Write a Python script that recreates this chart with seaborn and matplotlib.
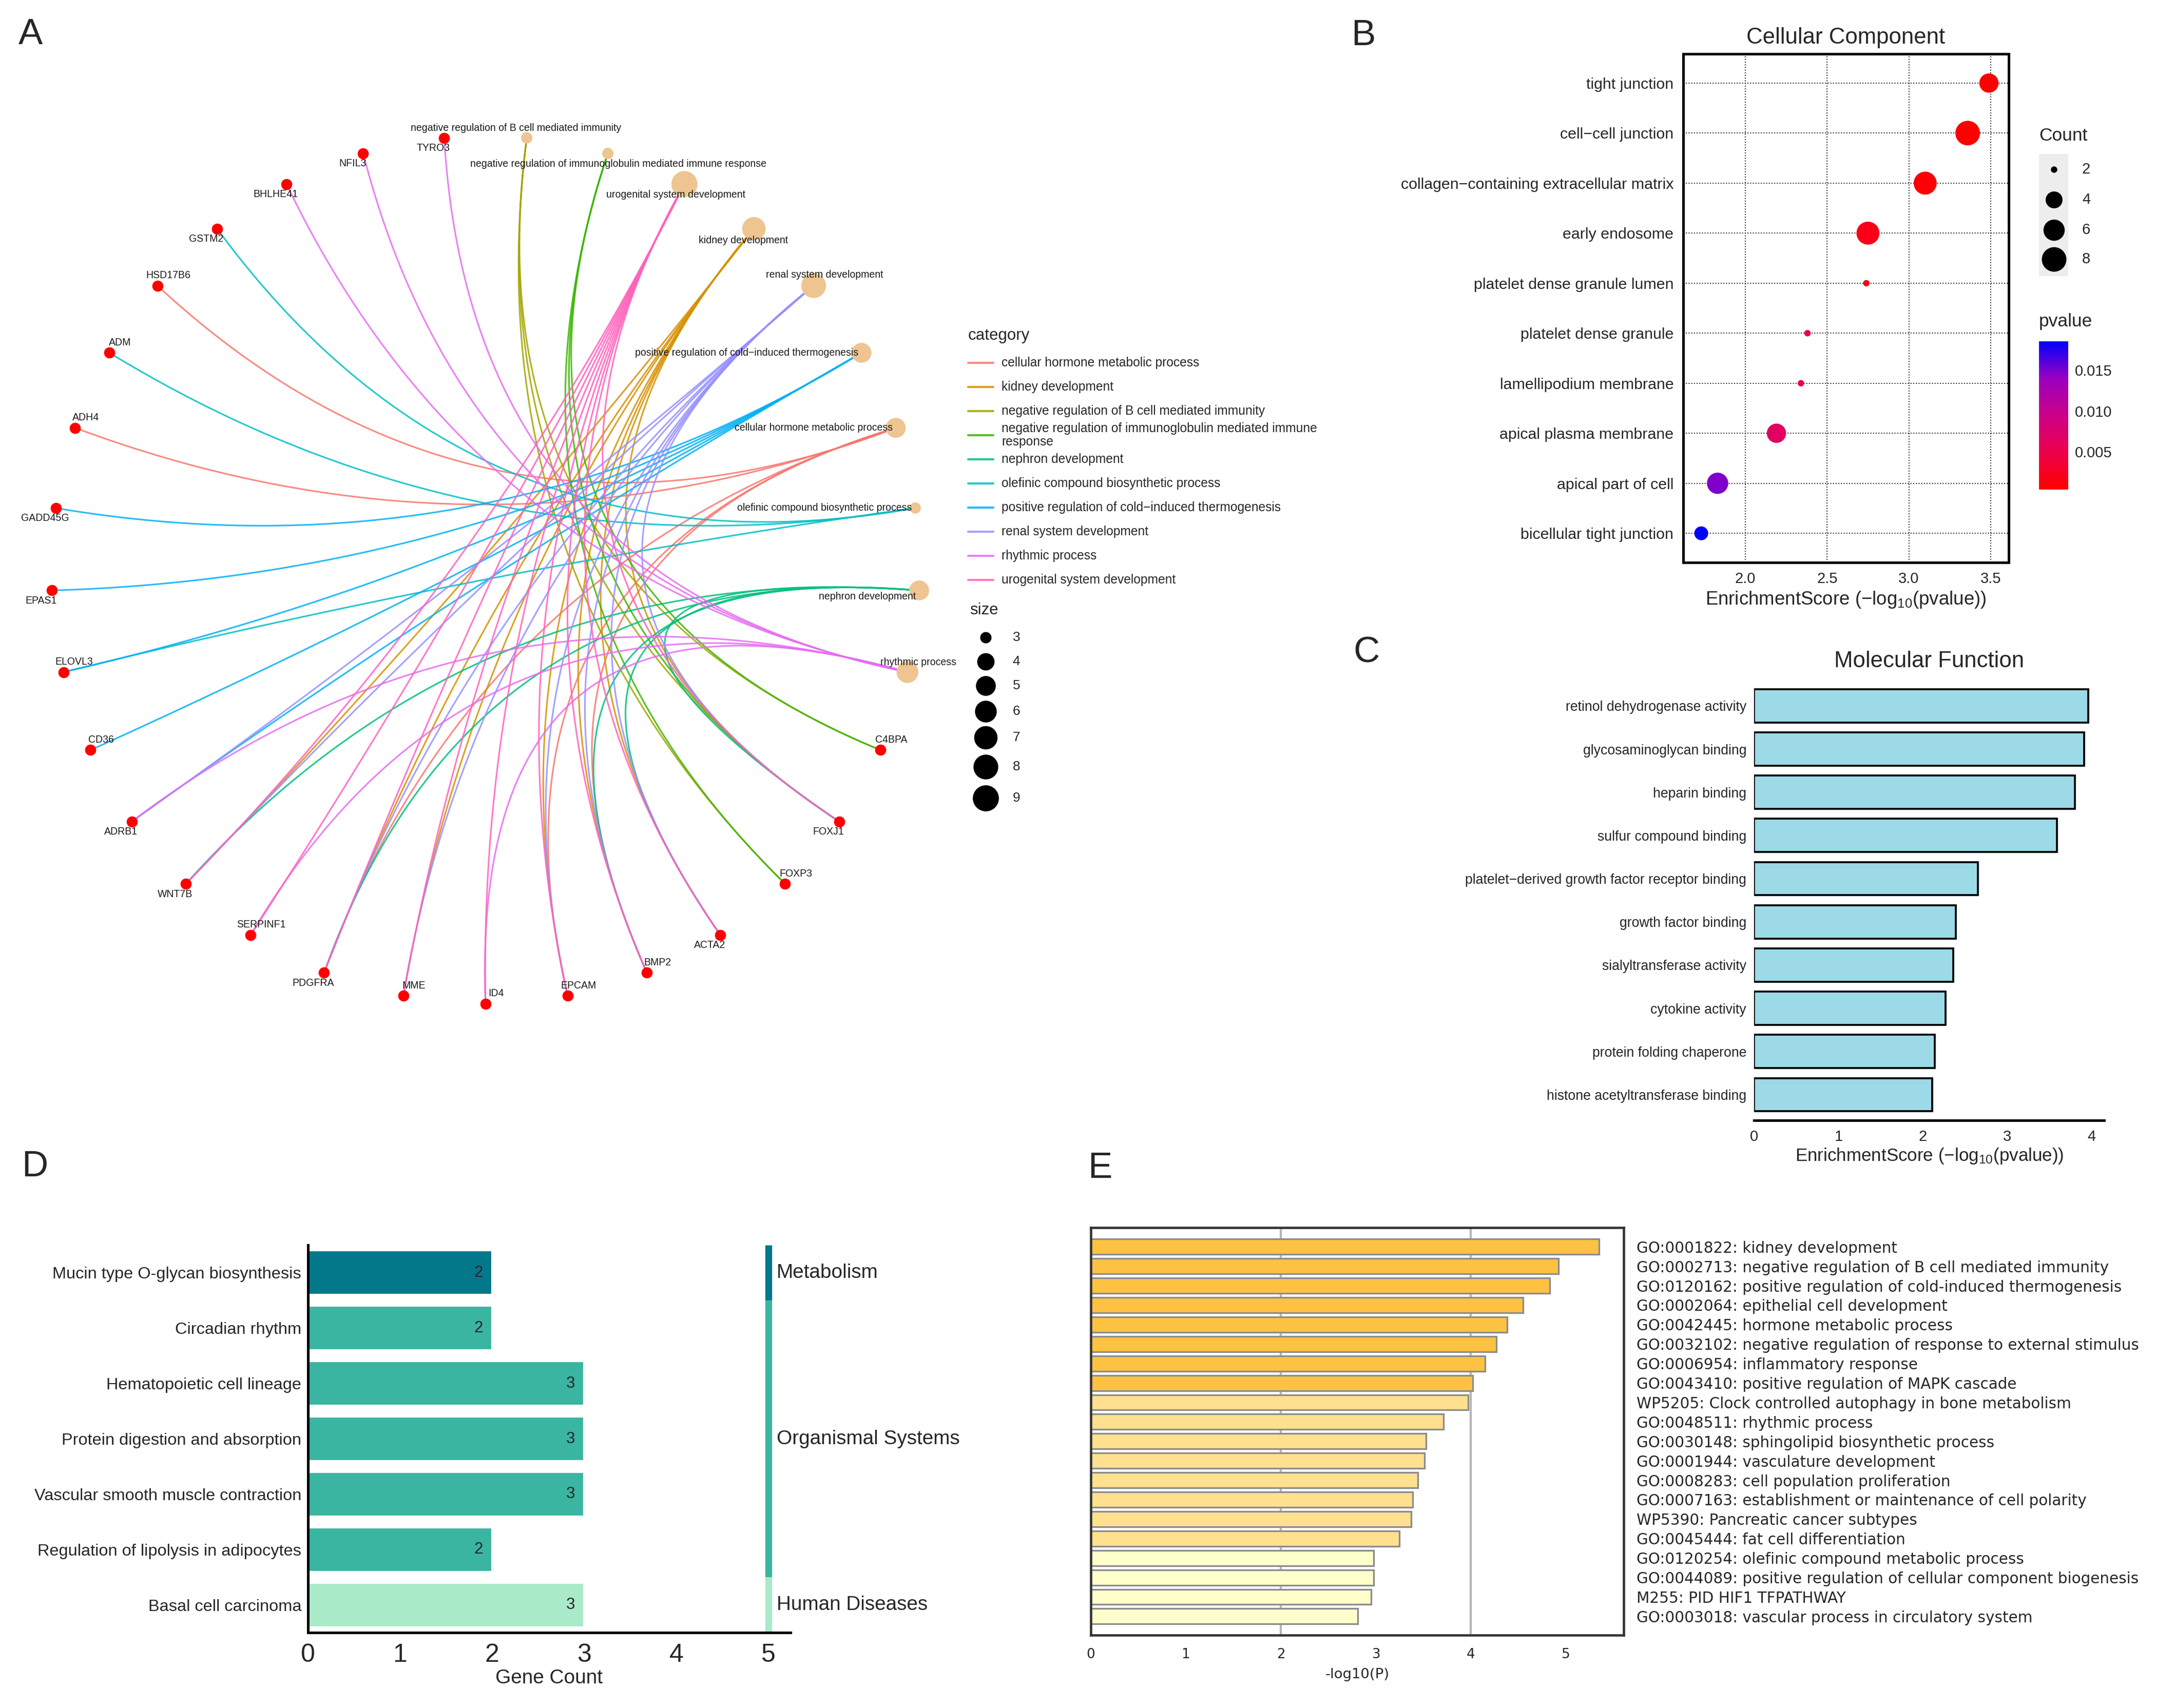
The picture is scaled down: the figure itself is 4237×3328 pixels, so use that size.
import numpy as np
import pandas as pd
import matplotlib
matplotlib.use("Agg")
import matplotlib.pyplot as plt
import seaborn as sns
from matplotlib.colors import LinearSegmentedColormap, Normalize
from matplotlib.cm import ScalarMappable
from matplotlib.patches import Rectangle

sns.set_style("white")
plt.rcParams['font.family'] = ['Liberation Sans', 'DejaVu Sans']
plt.rcParams['mathtext.default'] = 'regular'

# ---------------- data ----------------
# A: gene-concept network (terms then genes, clockwise from the top)
terms = ["negative regulation of B cell mediated immunity",
         "negative regulation of immunoglobulin mediated immune response",
         "urogenital system development", "kidney development",
         "renal system development",
         "positive regulation of cold\u2212induced thermogenesis",
         "cellular hormone metabolic process",
         "olefinic compound biosynthetic process",
         "nephron development", "rhythmic process"]
term_size = [3, 3, 9, 7, 8, 5, 5, 3, 5, 6]
genes = ["C4BPA", "FOXJ1", "FOXP3", "ACTA2", "BMP2", "EPCAM", "ID4", "MME",
         "PDGFRA", "SERPINF1", "WNT7B", "ADRB1", "CD36", "ELOVL3", "EPAS1",
         "GADD45G", "ADH4", "ADM", "HSD17B6", "GSTM2", "BHLHE41", "NFIL3", "TYRO3"]
term_genes = {
    terms[0]: ["FOXJ1", "FOXP3", "C4BPA"],
    terms[1]: ["FOXJ1", "FOXP3", "C4BPA"],
    terms[2]: ["WNT7B", "PDGFRA", "MME", "EPCAM", "BMP2", "ACTA2", "FOXJ1", "ID4", "SERPINF1"],
    terms[3]: ["WNT7B", "PDGFRA", "MME", "EPCAM", "BMP2", "ACTA2", "FOXJ1"],
    terms[4]: ["WNT7B", "PDGFRA", "MME", "EPCAM", "BMP2", "ACTA2", "FOXJ1", "ADRB1"],
    terms[5]: ["GADD45G", "EPAS1", "ELOVL3", "CD36", "ADRB1"],
    terms[6]: ["HSD17B6", "ADH4", "BMP2", "PDGFRA", "EPCAM"],
    terms[7]: ["GSTM2", "ADM", "ELOVL3"],
    terms[8]: ["WNT7B", "PDGFRA", "BMP2", "ACTA2", "FOXJ1"],
    terms[9]: ["TYRO3", "NFIL3", "BHLHE41", "ID4", "SERPINF1", "ADRB1"],
}

# B: cellular component dot plot
cc_terms = ["tight junction", "cell\u2212cell junction",
            "collagen\u2212containing extracellular matrix", "early endosome",
            "platelet dense granule lumen", "platelet dense granule",
            "lamellipodium membrane", "apical plasma membrane",
            "apical part of cell", "bicellular tight junction"]
cc_score = [3.49, 3.36, 3.10, 2.75, 2.74, 2.38, 2.34, 2.19, 1.83, 1.73]
cc_count = [5, 8, 7, 7, 2, 2, 2, 5, 6, 3]
cc_pvalue = [0.00032, 0.00044, 0.00079, 0.0018, 0.0018, 0.0042, 0.0046,
             0.0065, 0.0148, 0.0186]

# C: molecular function
mf_terms = ["retinol dehydrogenase activity", "glycosaminoglycan binding",
            "heparin binding", "sulfur compound binding",
            "platelet\u2212derived growth factor receptor binding",
            "growth factor binding", "sialyltransferase activity",
            "cytokine activity", "protein folding chaperone",
            "histone acetyltransferase binding"]
mf_score = [3.96, 3.91, 3.80, 3.59, 2.65, 2.39, 2.36, 2.27, 2.14, 2.11]

# D: KEGG
kegg_pathways = ["Mucin type O-glycan biosynthesis", "Circadian rhythm",
                 "Hematopoietic cell lineage", "Protein digestion and absorption",
                 "Vascular smooth muscle contraction",
                 "Regulation of lipolysis in adipocytes", "Basal cell carcinoma"]
kegg_count = [2, 2, 3, 3, 3, 2, 3]
kegg_class = ["Metabolism", "Organismal Systems", "Organismal Systems",
              "Organismal Systems", "Organismal Systems", "Organismal Systems",
              "Human Diseases"]

# E: Metascape
meta_terms = ["GO:0001822: kidney development",
              "GO:0002713: negative regulation of B cell mediated immunity",
              "GO:0120162: positive regulation of cold-induced thermogenesis",
              "GO:0002064: epithelial cell development",
              "GO:0042445: hormone metabolic process",
              "GO:0032102: negative regulation of response to external stimulus",
              "GO:0006954: inflammatory response",
              "GO:0043410: positive regulation of MAPK cascade",
              "WP5205: Clock controlled autophagy in bone metabolism",
              "GO:0048511: rhythmic process",
              "GO:0030148: sphingolipid biosynthetic process",
              "GO:0001944: vasculature development",
              "GO:0008283: cell population proliferation",
              "GO:0007163: establishment or maintenance of cell polarity",
              "WP5390: Pancreatic cancer subtypes",
              "GO:0045444: fat cell differentiation",
              "GO:0120254: olefinic compound metabolic process",
              "GO:0044089: positive regulation of cellular component biogenesis",
              "M255: PID HIF1 TFPATHWAY",
              "GO:0003018: vascular process in circulatory system"]
meta_logp = [5.35, 4.92, 4.83, 4.55, 4.38, 4.27, 4.15, 4.02, 3.97, 3.71,
             3.53, 3.51, 3.44, 3.39, 3.37, 3.25, 2.98, 2.98, 2.95, 2.81]

# ---------------- styles ----------------
cat_palette = ['#F8766D', '#D89000', '#A3A500', '#39B600', '#00BF7D',
               '#00BFC4', '#00B0F6', '#9590FF', '#E76BF3', '#FF62BC']
legend_terms = sorted(terms)
term_colors = dict(zip(legend_terms, cat_palette))
class_colors = {"Metabolism": "#04788B", "Organismal Systems": "#3AB5A1",
                "Human Diseases": "#A9EAC9"}
pv_cmap = LinearSegmentedColormap.from_list(
    "rb", ["#FF0000", "#EC004C", "#CC0088", "#9A00C0", "#0000FF"])


def node_d(n):
    return 5.3 + 6.9 * np.sqrt((n - 3) / 6.0)


def cnt_d(c):
    return 3.0 + 8.5 * np.sqrt((c - 2) / 6.0)


W, H = 1568.0, 1232.0


def frac(x0, y0, x1, y1):
    return [x0 / W, 1 - y1 / H, (x1 - x0) / W, (y1 - y0) / H]


fig = plt.figure(figsize=(4237 / 300, 3328 / 300), dpi=300)

# ---------------- A ----------------
ax_a = fig.add_axes(frac(0, 70, 700, 790))
names = terms + genes
n_nodes = len(names)
ang = np.deg2rad(90 - 360.0 / n_nodes * (np.arange(n_nodes) + 0.5))
pos = {nm: np.array([np.cos(a), np.sin(a)]) for nm, a in zip(names, ang)}

tt = np.linspace(0, 1, 80)[:, None]
for term in legend_terms:
    for g in term_genes[term]:
        p0, p1 = pos[g], pos[term]
        ctrl = -0.08 * (p0 + p1) / 2          # bend through the centre
        curve = (1 - tt) ** 2 * p0 + 2 * tt * (1 - tt) * ctrl + tt ** 2 * p1
        ax_a.plot(curve[:, 0], curve[:, 1], color=term_colors[term], lw=0.75,
                  alpha=0.85, zorder=1)

node_df = pd.DataFrame({"name": names,
                        "x": [pos[n][0] for n in names],
                        "y": [pos[n][1] for n in names],
                        "kind": ["term"] * len(terms) + ["gene"] * len(genes),
                        "size": term_size + [3] * len(genes)})
sns.scatterplot(data=node_df[node_df.kind == "gene"], x="x", y="y",
                color="#FF0000", s=27, linewidth=0, ax=ax_a, zorder=3)
sns.scatterplot(data=node_df[node_df.kind == "term"], x="x", y="y",
                size="size", sizes={n: node_d(n) ** 2 for n in range(3, 10)},
                color="#EEC591", linewidth=0, legend=False, ax=ax_a, zorder=3)

term_label_pos = {terms[0]: (-5, 4.6, "center"), terms[1]: (5, -5, "center"),
                  terms[2]: (-4, -5, "center"), terms[3]: (-5, -5.5, "center"),
                  terms[4]: (5, 5, "center"), terms[5]: (-1.5, 0, "right"),
                  terms[6]: (-1.5, 0, "right"), terms[7]: (-1.5, 0, "right"),
                  terms[8]: (-1.5, -3, "right"), terms[9]: (5, 4.6, "center")}
up_right = {"C4BPA", "FOXP3", "BMP2", "EPCAM", "ID4", "MME", "SERPINF1", "CD36",
            "ELOVL3", "ADH4", "ADM", "HSD17B6"}
for nm in names:
    if nm in term_label_pos:
        dx, dy, ha = term_label_pos[nm]
    elif nm in up_right:
        dx, dy, ha = 5, 4.8, "center"
    else:
        dx, dy, ha = -5, -4.8, "center"
    ax_a.annotate(nm, pos[nm], xytext=(dx, dy), textcoords="offset points",
                  ha=ha, va="center", fontsize=4.7, color="#1a1a1a", zorder=4)
ax_a.set_xlim(-350 / 313, 350 / 313)
ax_a.set_ylim((411 - 790) / 313, (411 - 70) / 313)
ax_a.axis("off")

# ---------------- B ----------------
ax_b = fig.add_axes(frac(1213.5, 39, 1448, 405.6))
cc_df = pd.DataFrame({"term": cc_terms, "score": cc_score, "count": cc_count,
                      "pvalue": cc_pvalue})
cc_df["ypos"] = np.arange(len(cc_df))[::-1]
pv_norm = Normalize(min(cc_pvalue), max(cc_pvalue))
ax_b.grid(True, color="#333333", linestyle=(0, (1, 1.5)), linewidth=0.5)
ax_b.set_axisbelow(True)
sns.scatterplot(data=cc_df, x="score", y="ypos", hue="pvalue", palette=pv_cmap,
                hue_norm=pv_norm, size="count",
                sizes={c: cnt_d(c) ** 2 for c in range(2, 9)},
                legend=False, linewidth=0, ax=ax_b, zorder=3)
ax_b.set_yticks(cc_df.ypos, cc_df.term)
ax_b.set_xticks([2.0, 2.5, 3.0, 3.5], ["2.0", "2.5", "3.0", "3.5"])
ax_b.set_xlim(1.62, 3.61)
ax_b.set_ylim(-0.58, 9.58)
for sp in ax_b.spines.values():
    sp.set_color("black")
    sp.set_linewidth(1.2)
ax_b.tick_params(axis="both", length=2.5, width=0.8, pad=2, color="black")
ax_b.tick_params(axis="y", labelsize=7.3)
ax_b.tick_params(axis="x", labelsize=7)
ax_b.set_xlabel("EnrichmentScore (\u2212log$_{10}$(pvalue))", fontsize=8.8, labelpad=1.5)
ax_b.set_ylabel("")
ax_b.set_title("Cellular Component", fontsize=10.5, pad=5)

cax = fig.add_axes(frac(1470, 246, 1491, 353))
cb = fig.colorbar(ScalarMappable(norm=pv_norm, cmap=pv_cmap), cax=cax)
cb.set_ticks([0.005, 0.010, 0.015], labels=["0.005", "0.010", "0.015"])
cb.outline.set_visible(False)
cax.tick_params(length=3, color="white", width=0.8, labelsize=7, direction="in", pad=3)

# ---------------- C ----------------
ax_c = fig.add_axes(frac(1264.7, 492, 1517, 808))
sns.barplot(x=mf_score, y=mf_terms, orient="h", color="#9BDAE6", saturation=1,
            edgecolor="black", linewidth=0.9, width=0.77, ax=ax_c)
ax_c.set_xlim(0, 4.15)
ax_c.set_ylim(9.59, -0.55)
sns.despine(ax=ax_c, left=True)
ax_c.spines["bottom"].set_linewidth(1.2)
ax_c.spines["bottom"].set_color("black")
ax_c.set_xticks([0, 1, 2, 3, 4])
ax_c.tick_params(axis="y", length=0, pad=3.7, labelsize=6.4)
ax_c.tick_params(axis="x", length=3, width=0.9, labelsize=7, pad=1.5, color="black")
ax_c.set_xlabel("EnrichmentScore (\u2212log$_{10}$(pvalue))", fontsize=8.4, labelpad=1)
ax_c.set_title("Molecular Function", fontsize=10.5, pad=7)

# ---------------- D ----------------
ax_d = fig.add_axes(frac(221.9, 898, 570, 1177.7))
kegg_df = pd.DataFrame({"pathway": kegg_pathways, "count": kegg_count,
                        "class": kegg_class})
sns.barplot(data=kegg_df, x="count", y="pathway", hue="class",
            palette=class_colors, dodge=False, width=0.81, saturation=1,
            legend=False, ax=ax_d)
for i, v in enumerate(kegg_count):
    ax_d.text(v - 0.15, i, str(v), ha="center", va="center", fontsize=7.5)
for cls in class_colors:
    rows = [i for i, c in enumerate(kegg_class) if c == cls]
    ax_d.plot([5, 5], [min(rows) - 0.5, max(rows) + 0.5], color=class_colors[cls],
              lw=3.2, solid_capstyle="butt", clip_on=False)
    ax_d.text(5.09, np.mean(rows), cls, va="center", ha="left", fontsize=9.3)
ax_d.set_xlim(0, 5.24)
ax_d.set_ylim(6.5, -0.5)
sns.despine(ax=ax_d)
for sp in ("left", "bottom"):
    ax_d.spines[sp].set_linewidth(1.2)
    ax_d.spines[sp].set_color("black")
ax_d.set_xticks(range(6))
ax_d.tick_params(axis="x", length=3, width=0.9, labelsize=12, pad=2, color="black")
ax_d.tick_params(axis="y", length=0, pad=3, labelsize=7.8)
ax_d.set_xlabel("Gene Count", fontsize=9.3, labelpad=1)
ax_d.set_ylabel("")

# ---------------- E ----------------
ax_e = fig.add_axes(frac(786.3, 885.4, 1170.7, 1179.5))
meta_colors = ["#FEC243" if v >= 4 else "#FEE08E" if v >= 3 else "#FFFFCC"
               for v in meta_logp]
for v in (2, 4):
    ax_e.axvline(v, color="#B5B5B5", lw=1.0, zorder=0)
sns.barplot(x=meta_logp, y=meta_terms, hue=meta_terms, palette=meta_colors,
            legend=False, saturation=1, width=0.79, edgecolor="#8C8C8C",
            linewidth=0.8, ax=ax_e)
ax_e.set_xlim(0, 5.61)
ax_e.set_ylim(19.97, -0.99)
for sp in ax_e.spines.values():
    sp.set_color("#333333")
    sp.set_linewidth(1.1)
ax_e.yaxis.tick_right()
ax_e.set_xticks(range(6))
ax_e.tick_params(axis="y", length=0, pad=6, labelsize=7.1)
ax_e.tick_params(axis="x", length=3, width=0.8, labelsize=6.3, pad=3, color="#333333")
for lbl in ax_e.get_yticklabels() + ax_e.get_xticklabels():
    lbl.set_fontfamily("DejaVu Sans")
ax_e.set_xlabel("-log10(P)", fontsize=6.6, fontfamily="DejaVu Sans", labelpad=3)
ax_e.set_ylabel("")

# ---------------- overlay: legends and panel letters ----------------
ov = fig.add_axes([0, 0, 1, 1])
ov.patch.set_alpha(0)

ov.text(698, 242, "category", fontsize=7.5, va="center")
for i, term in enumerate(legend_terms):
    y = 261.7 + 17.4 * i
    ov.plot([698, 716], [y, y], color=term_colors[term], lw=1.0, alpha=0.85)
    lab = term.replace("immune response", "immune\nresponse")
    ov.text(722, y, lab, fontsize=5.9, va="center", linespacing=1.1)

ov.text(699, 440, "size", fontsize=7.5, va="center")
size_key_y = [459.7, 477, 494.5, 513, 532, 553, 575.5]
for n, y in zip(range(3, 10), size_key_y):
    ov.scatter([710.6], [y], s=node_d(n) ** 2, color="black", linewidth=0)
    ov.text(730, y, str(n), fontsize=6.3, va="center")

ov.text(1470, 98, "Count", fontsize=8.5, va="center")
ov.add_patch(Rectangle((1470, 111), 21, 88, color="#EDEDED", lw=0))
for c, y in zip([2, 4, 6, 8], [122, 144, 166, 187]):
    ov.scatter([1480.5], [y], s=cnt_d(c) ** 2, color="black", linewidth=0)
    ov.text(1501, y, str(c), fontsize=7, va="center")
ov.text(1470, 232, "pvalue", fontsize=8.5, va="center")

for letter, (x, y) in zip("ABCDE", [(22, 25), (983, 26), (985, 471), (25, 842), (793, 843)]):
    ov.text(x, y, letter, fontsize=17, ha="center", va="center")

ov.set_xlim(0, W)
ov.set_ylim(H, 0)
ov.axis("off")

fig.savefig("out.png", dpi=300)
